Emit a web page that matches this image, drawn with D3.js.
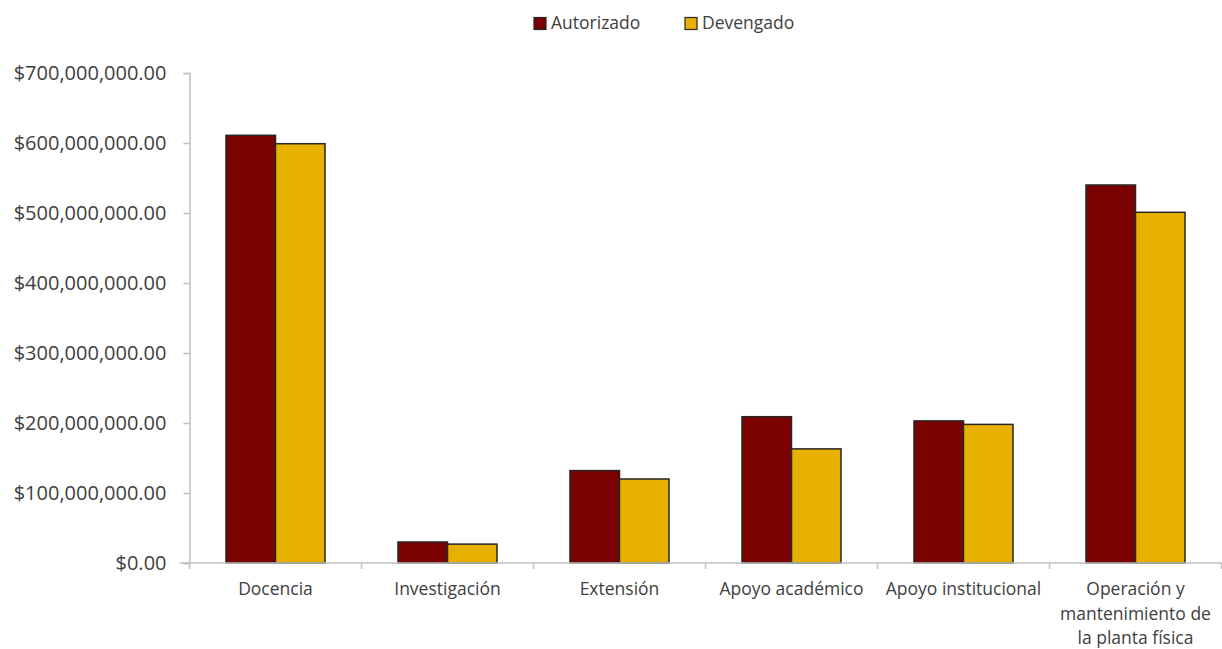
<!DOCTYPE html>
<html><head><meta charset="utf-8">
<script src="https://cdn.jsdelivr.net/npm/d3@7"></script>
<style>body{margin:0;background:#fff}svg{display:block}text{font-family:"Open Sans",sans-serif;fill:#404040}</style>
</head><body><svg id="c" width="1222" height="649"></svg>
<script>
const categories = [["Docencia"],["Investigación"],["Extensión"],["Apoyo académico"],["Apoyo institucional"],["Operación y","mantenimiento de","la planta física"]];
const seriesNames = ["Autorizado","Devengado"];
const autorizado = [611e6, 30e6, 132e6, 209e6, 203e6, 540e6];
const devengado = [599e6, 27e6, 120e6, 163e6, 198e6, 501e6];
const yTicks = [0,100e6,200e6,300e6,400e6,500e6,600e6,700e6];
const colors = ["#7B0000","#E8B100"];

(function(){
const svg = d3.select("#c");
const mLeft = 189.5, mRight = 1221.5, mTop = 73, mBottom = 563;
const x = d3.scaleBand().domain(d3.range(categories.length)).range([mLeft,mRight]).paddingInner(0).paddingOuter(0);
const y = d3.scaleLinear().domain([0,700e6]).range([mBottom,mTop]);
const fmt = v => "$" + d3.format(",.2f")(v);

// y axis
const ya = svg.append("g").attr("transform",`translate(${mLeft},0)`).call(d3.axisLeft(y).tickValues(yTicks).tickFormat(fmt).tickSize(6).tickPadding(8));
ya.select(".domain").attr("stroke","#bfbfbf").attr("stroke-width",1.5);
ya.selectAll(".tick line").attr("stroke","#bfbfbf").attr("stroke-width",1.5);
ya.selectAll(".tick text").style("font-size","20px").style("font-family","'Open Sans',sans-serif").attr("fill","#262626").attr("x",-23);

// bars
const bw = 49.5;
const g = svg.append("g");
categories.forEach((c,i)=>{
  const cx = x(i)+x.bandwidth()/2;
  [autorizado[i],devengado[i]].forEach((v,j)=>{
    g.append("rect").attr("x",cx-bw+j*bw).attr("y",y(v)).attr("width",bw).attr("height",y(0)-y(v))
     .attr("fill",colors[j]).attr("stroke","#262626").attr("stroke-width",1.5);
  });
});

// x axis
const xa = svg.append("g").attr("transform",`translate(0,${mBottom})`);
xa.append("line").attr("x1",mLeft-10).attr("x2",mRight).attr("stroke","#bfbfbf").attr("stroke-width",1.5);
d3.range(categories.length+1).forEach(i=>{
  const px = mLeft + i*x.step();
  xa.append("line").attr("x1",px).attr("x2",px).attr("y1",0).attr("y2",6).attr("stroke","#bfbfbf").attr("stroke-width",1.5);
});
categories.forEach((lines,i)=>{
  const t = xa.append("text").attr("text-anchor","middle").style("font-size","17.5px").attr("fill","#262626");
  lines.forEach((l,k)=>t.append("tspan").attr("x",x(i)+x.bandwidth()/2).attr("y",32+k*24.5).text(l));
});

// legend
const legX = [534, 685];
seriesNames.forEach((n,j)=>{
  svg.append("rect").attr("x",legX[j]).attr("y",17.5).attr("width",12).attr("height",12).attr("fill",colors[j]).attr("stroke","#262626").attr("stroke-width",1.2);
  svg.append("text").attr("x",legX[j]+17).attr("y",29).style("font-size","17.5px").attr("fill","#262626").text(n);
});
})();
</script></body></html>
